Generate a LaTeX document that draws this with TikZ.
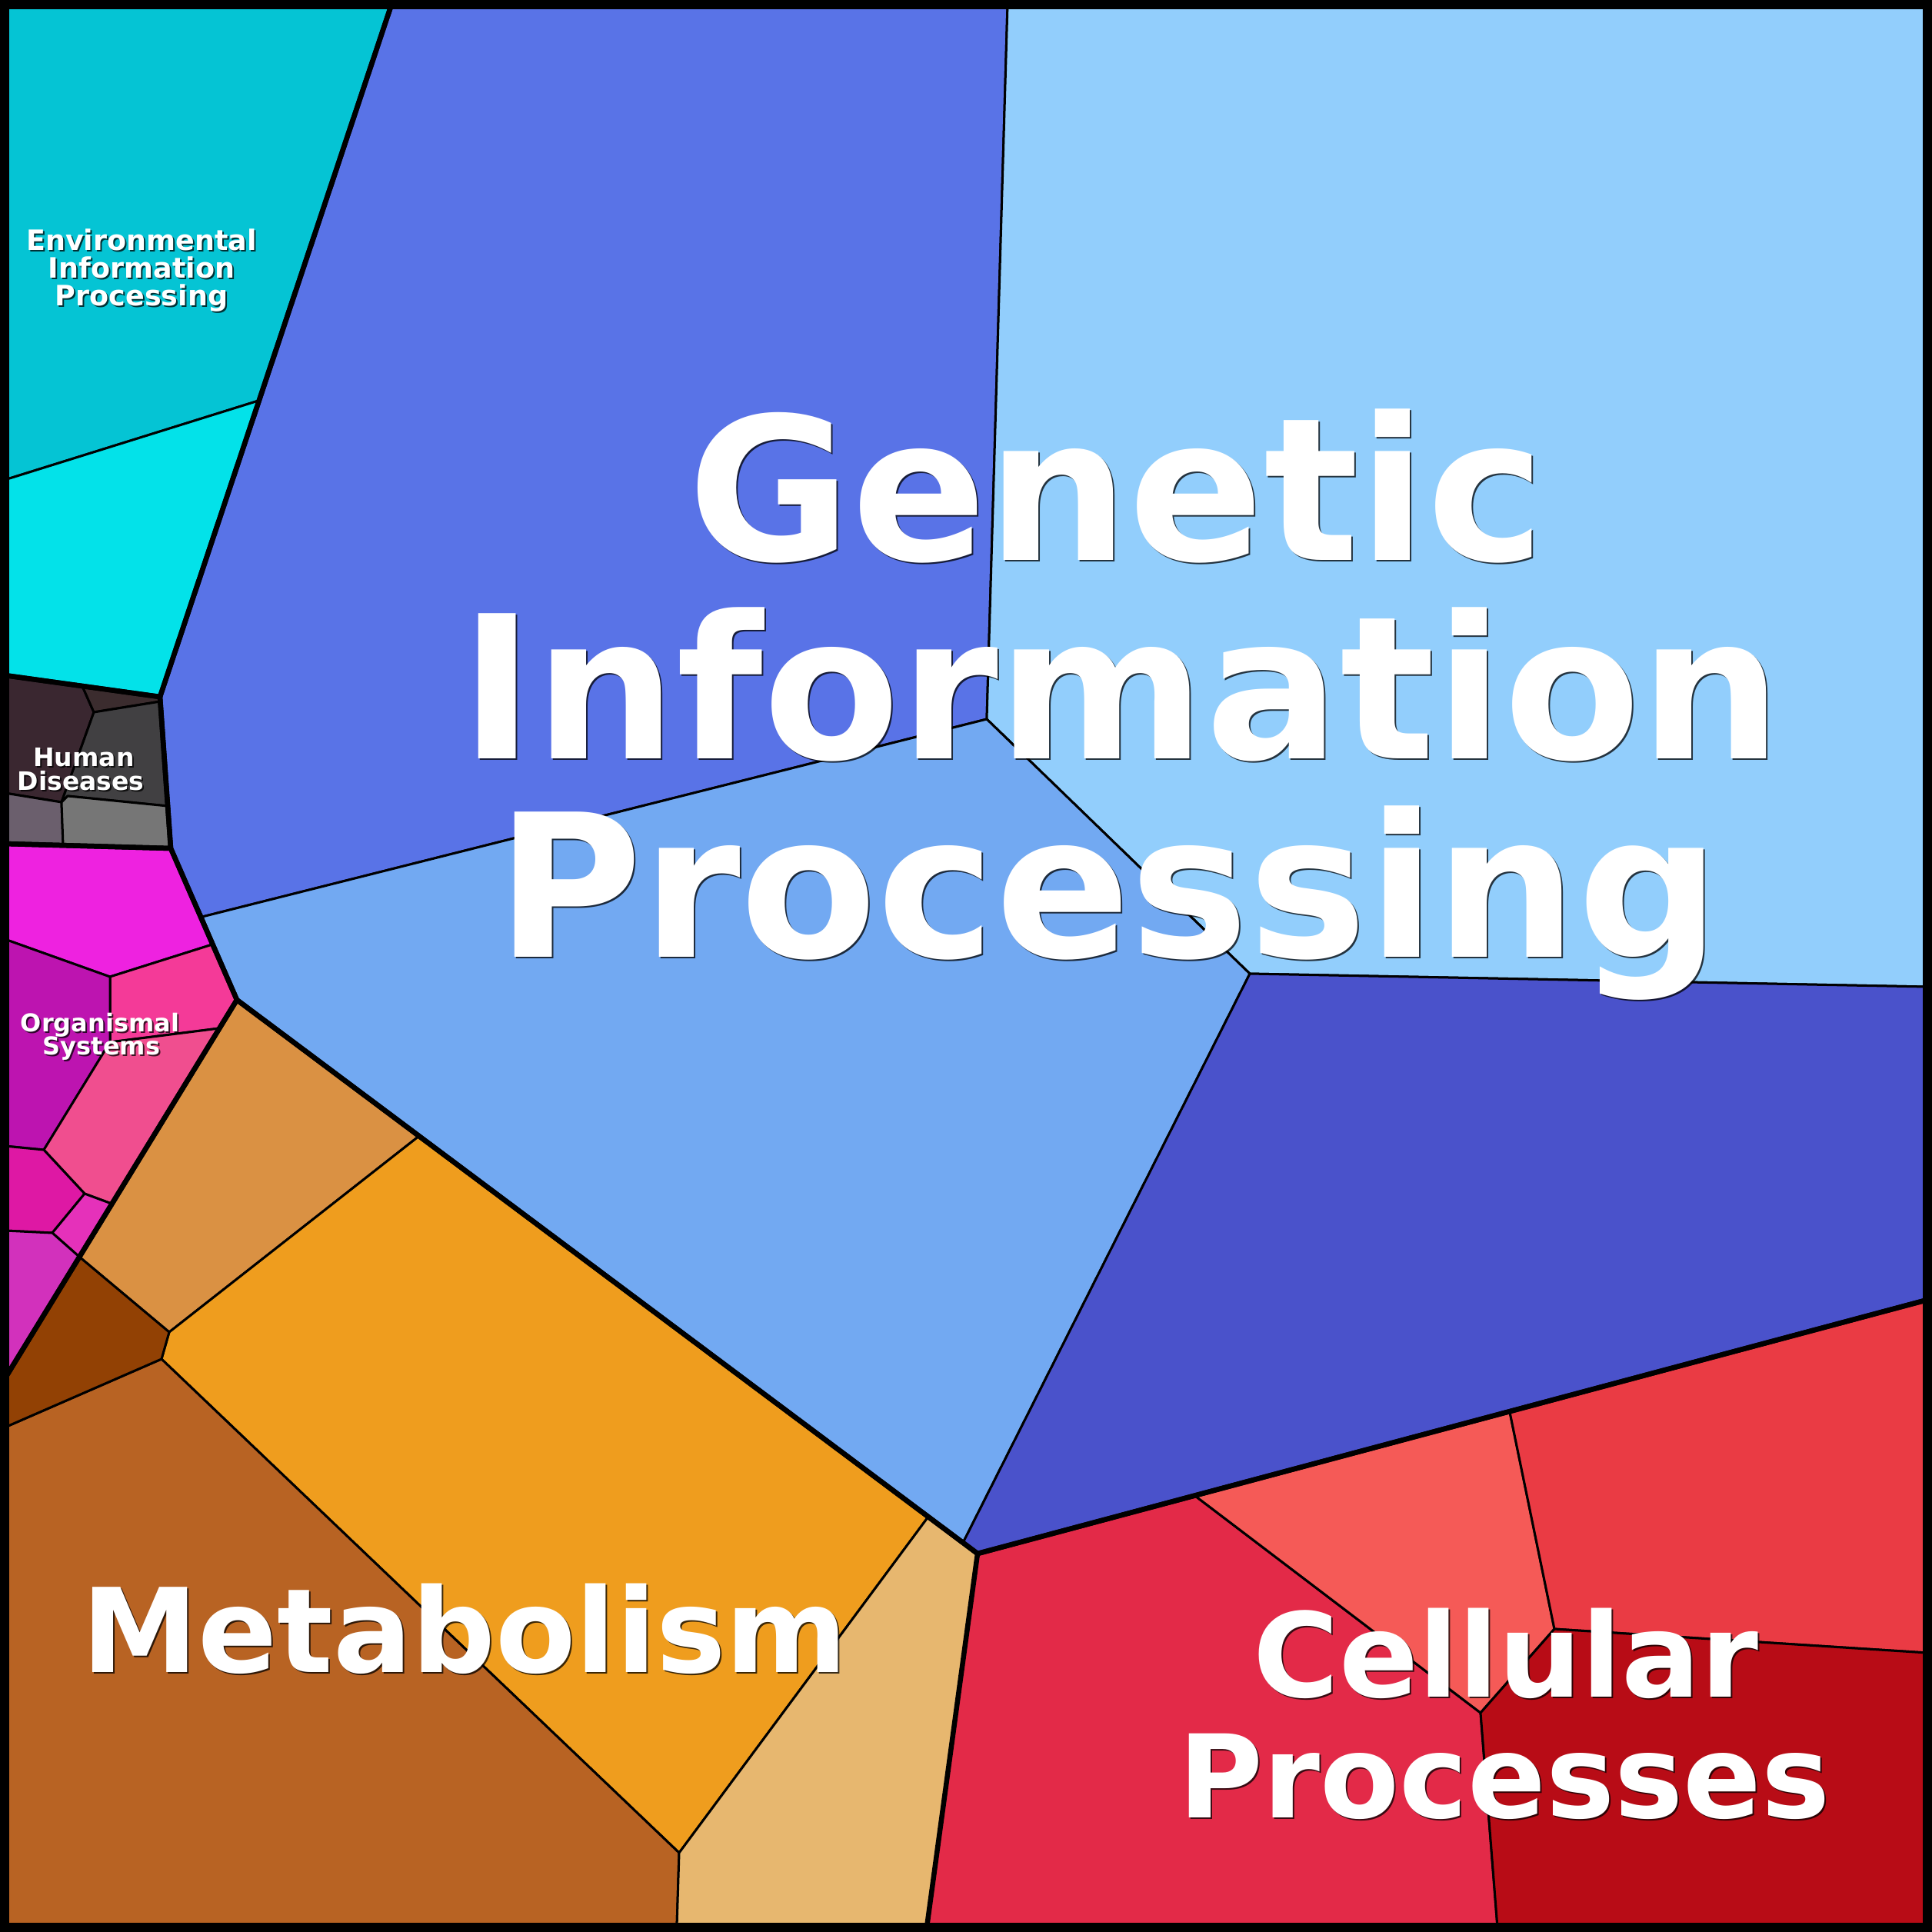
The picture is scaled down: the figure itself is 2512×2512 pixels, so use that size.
\documentclass[tikz,border=0pt]{standalone}
\usepackage{fontspec}
\newfontfamily\labfont{DejaVu Sans}
\definecolor{eipA}{HTML}{05C4D4}
\definecolor{eipB}{HTML}{03E2E9}
\definecolor{gipA}{HTML}{5973E7}
\definecolor{gipB}{HTML}{92CEFC}
\definecolor{gipC}{HTML}{72A9F2}
\definecolor{gipD}{HTML}{4A52CB}
\definecolor{hdA}{HTML}{3A2730}
\definecolor{hdB}{HTML}{3B2C2E}
\definecolor{hdC}{HTML}{414042}
\definecolor{hdD}{HTML}{6B5F6D}
\definecolor{hdE}{HTML}{767676}
\definecolor{osA}{HTML}{EE22E0}
\definecolor{osB}{HTML}{F43A98}
\definecolor{osC}{HTML}{BD14B0}
\definecolor{osD}{HTML}{F04E8F}
\definecolor{osE}{HTML}{DE18A4}
\definecolor{osF}{HTML}{E531BA}
\definecolor{osG}{HTML}{D231BC}
\definecolor{meA}{HTML}{DA9143}
\definecolor{meB}{HTML}{EF9D1E}
\definecolor{meC}{HTML}{B86323}
\definecolor{meD}{HTML}{E7B76F}
\definecolor{meE}{HTML}{924104}
\definecolor{cpA}{HTML}{E32A48}
\definecolor{cpB}{HTML}{F55A57}
\definecolor{cpC}{HTML}{EA3B44}
\definecolor{cpD}{HTML}{B80C16}
\newcommand\shlabel[5]{%
  \node[lblsh, font={\labfont\bfseries\fontsize{#4}{#4}\selectfont}] (#1s) at ({#2+2},{#3+2}) {#5};
  \node[lbl, font={\labfont\bfseries\fontsize{#4}{#4}\selectfont}] (#1) at (#2,#3) {#5};}
\begin{document}
\begin{tikzpicture}[x=1pt,y=-1pt,
  cellline/.style={draw=black,line width=3pt,line join=round},
  catline/.style={draw=black,line width=6.5pt,line join=round},
  lbl/.style={anchor=base,inner sep=0pt,text=white},
  lblsh/.style={anchor=base,inner sep=0pt,text=black,opacity=0.75}]
\useasboundingbox (0,0) rectangle (2512,2512);
% frame corners
\coordinate (TL) at (6,6); \coordinate (TR) at (2506,6);
\coordinate (BR) at (2506,2506); \coordinate (BL) at (6,2506);
% main vertices
\coordinate (T1) at (509,6); \coordinate (T2) at (1310,6);
\coordinate (E1) at (336,521); \coordinate (L1) at (6,624);
\coordinate (A) at (208,906); \coordinate (L2) at (6,878);
\coordinate (G1) at (1283,935); \coordinate (G2) at (263,1192);
\coordinate (G3) at (1625,1266); \coordinate (R1) at (2506,1283);
\coordinate (G4) at (1252,2006); \coordinate (C0) at (1271,2020);
\coordinate (R2) at (2506,1690);
\coordinate (K) at (308,1300); \coordinate (M1) at (545,1477);
\coordinate (M2) at (1207,1972);
\coordinate (S1) at (1554,1945); \coordinate (S2) at (1963,1836);
\coordinate (CV1) at (1925,2227); \coordinate (CV2) at (2021,2118);
\coordinate (R3) at (2506,2149); \coordinate (B3) at (1947,2506);
\coordinate (B2) at (1205,2506);
\coordinate (X2) at (220,1732); \coordinate (X3) at (210,1767);
\coordinate (V) at (883,2409); \coordinate (B1) at (880,2506);
\coordinate (L3) at (6,1856); \coordinate (P) at (103,1634);
\coordinate (L5) at (6,1793);
% human diseases
\coordinate (HD1) at (107,892); \coordinate (HD2) at (122,926);
\coordinate (HD3) at (208.5,912); \coordinate (HD4) at (80,1043);
\coordinate (HD5) at (88,1035); \coordinate (HD6) at (218,1048);
\coordinate (HD7) at (82,1099); \coordinate (LH1) at (6,1031);
\coordinate (L4) at (6,1097); \coordinate (H) at (222,1103);
% organismal systems
\coordinate (O1) at (276,1228); \coordinate (OV1) at (143,1270);
\coordinate (OL1) at (6,1221); \coordinate (OV2) at (143,1355);
\coordinate (O2) at (285,1337); \coordinate (OV3) at (57,1495);
\coordinate (OL2) at (6,1490); \coordinate (OV4) at (110,1552);
\coordinate (O3) at (145,1565); \coordinate (OV5) at (68,1603);
\coordinate (OL3) at (6,1600);
% ---- cells ----
% Environmental Information Processing
\path[cellline,fill=eipA] (TL) -- (T1) -- (E1) -- (L1) -- cycle;
\path[cellline,fill=eipB] (L1) -- (E1) -- (A) -- (L2) -- cycle;
% Genetic Information Processing
\path[cellline,fill=gipA] (T1) -- (T2) -- (G1) -- (G2) -- (H) -- (A) -- cycle;
\path[cellline,fill=gipB] (T2) -- (TR) -- (R1) -- (G3) -- (G1) -- cycle;
\path[cellline,fill=gipC] (G2) -- (G1) -- (G3) -- (G4) -- (M2) -- (M1) -- (K) -- cycle;
\path[cellline,fill=gipD] (G3) -- (R1) -- (R2) -- (C0) -- (G4) -- cycle;
% Human Diseases
\path[cellline,fill=hdA] (L2) -- (HD1) -- (HD2) -- (HD4) -- (LH1) -- cycle;
\path[cellline,fill=hdB] (HD1) -- (A) -- (HD3) -- (HD2) -- cycle;
\path[cellline,fill=hdC] (HD2) -- (HD3) -- (HD6) -- (HD5) -- (HD4) -- cycle;
\path[cellline,fill=hdD] (LH1) -- (HD4) -- (HD7) -- (L4) -- cycle;
\path[cellline,fill=hdE] (HD4) -- (HD5) -- (HD6) -- (H) -- (HD7) -- cycle;
% Organismal Systems
\path[cellline,fill=osA] (L4) -- (H) -- (O1) -- (OV1) -- (OL1) -- cycle;
\path[cellline,fill=osB] (OV1) -- (O1) -- (K) -- (O2) -- (OV2) -- cycle;
\path[cellline,fill=osC] (OL1) -- (OV1) -- (OV2) -- (OV3) -- (OL2) -- cycle;
\path[cellline,fill=osD] (OV2) -- (O2) -- (O3) -- (OV4) -- (OV3) -- cycle;
\path[cellline,fill=osE] (OL2) -- (OV3) -- (OV4) -- (OV5) -- (OL3) -- cycle;
\path[cellline,fill=osF] (OV4) -- (O3) -- (P) -- (OV5) -- cycle;
\path[cellline,fill=osG] (OL3) -- (OV5) -- (P) -- (L5) -- cycle;
% Metabolism
\path[cellline,fill=meA] (K) -- (M1) -- (X2) -- (P) -- cycle;
\path[cellline,fill=meB] (M1) -- (M2) -- (V) -- (X3) -- (X2) -- cycle;
\path[cellline,fill=meC] (X3) -- (V) -- (B1) -- (BL) -- (L3) -- cycle;
\path[cellline,fill=meD] (M2) -- (C0) -- (B2) -- (B1) -- (V) -- cycle;
\path[cellline,fill=meE] (P) -- (X2) -- (X3) -- (L3) -- (L5) -- cycle;
% Cellular Processes
\path[cellline,fill=cpA] (C0) -- (S1) -- (CV1) -- (B3) -- (B2) -- cycle;
\path[cellline,fill=cpB] (S1) -- (S2) -- (CV2) -- (CV1) -- cycle;
\path[cellline,fill=cpC] (S2) -- (R2) -- (R3) -- (CV2) -- cycle;
\path[cellline,fill=cpD] (CV2) -- (R3) -- (BR) -- (B3) -- (CV1) -- cycle;
% ---- category outlines ----
\path[catline] (TL) -- (T1) -- (A) -- (L2);
\path[catline] (T1) -- (TR) -- (R2) -- (C0) -- (K) -- (H) -- (A) -- cycle;
\path[catline] (L2) -- (A) -- (H) -- (L4);
\path[catline] (L4) -- (H) -- (K) -- (L5);
\path[catline] (L5) -- (K) -- (C0) -- (B2);
\path[catline] (C0) -- (R2);
% frame
\draw[line width=12pt] (TL) rectangle (BR);
% ---- labels ----
\shlabel{gipa}{1452}{728}{259}{Genetic}
\shlabel{gipb}{1458}{986}{259}{Information}
\shlabel{gipc}{1441}{1244}{259}{Processing}
\shlabel{meta}{604}{2174}{152}{Metabolism}
\shlabel{cpa}{1958}{2206}{152}{Cellular}
\shlabel{cpb}{1956}{2363}{150}{Processes}
\shlabel{eipa}{184}{325}{36.5}{Environmental}
\shlabel{eipb}{184}{361.5}{36.5}{Information}
\shlabel{eipc}{184}{397}{36.5}{Processing}
\shlabel{hda}{109}{996.5}{33}{Human}
\shlabel{hdb}{105}{1027}{33}{Diseases}
\shlabel{osa}{130}{1341.5}{32}{Organismal}
\shlabel{osb}{132}{1371.5}{32}{Systems}
\end{tikzpicture}
\end{document}
